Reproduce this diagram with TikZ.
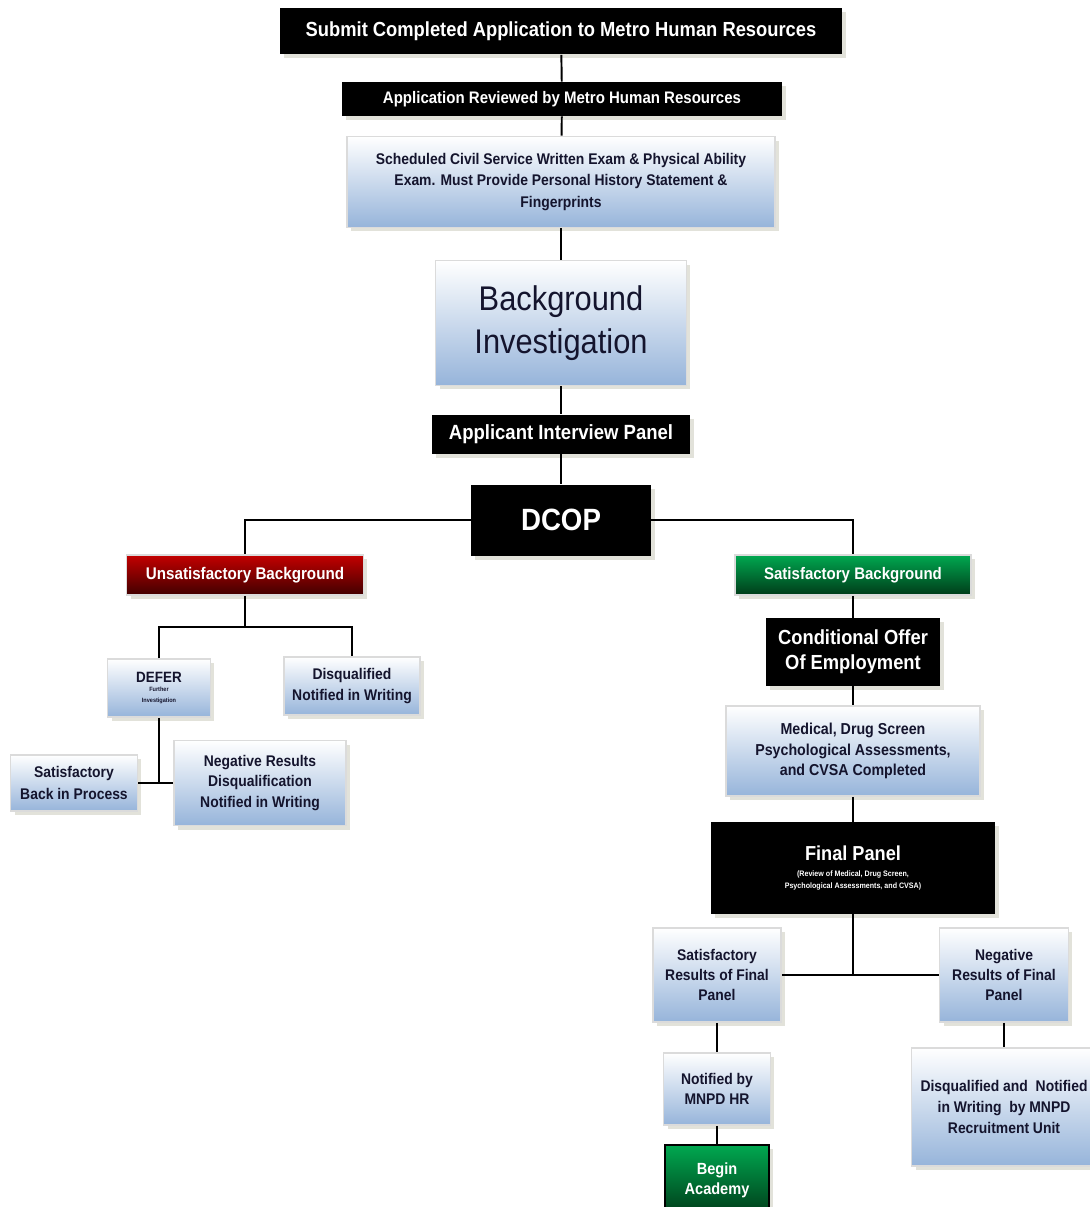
\documentclass[tikz,border=0pt]{standalone}
\usepackage{fontspec}
\setmainfont{Liberation Sans}[FakeStretch=0.9]
\usetikzlibrary{shadows}

\definecolor{boxblue}{RGB}{150,180,218}
\definecolor{boxtext}{RGB}{20,20,45}
\definecolor{redtop}{RGB}{195,0,0}
\definecolor{redbot}{RGB}{65,0,0}
\definecolor{greentop}{RGB}{0,168,80}
\definecolor{greenbot}{RGB}{0,60,25}
\definecolor{shadowgray}{RGB}{226,226,218}

\newcommand{\sz}[2]{\fontsize{#1}{#2}\selectfont}

\tikzset{
  flowbox/.style={align=center, inner sep=1pt,
    drop shadow={shadow xshift=0.08cm, shadow yshift=-0.08cm, fill=shadowgray, opacity=1}},
  bluebox/.style={flowbox, draw=black!14, line width=0.9pt, top color=white,
    bottom color=boxblue, text=boxtext, font=\bfseries\sz#1},
  blackbox/.style={flowbox, fill=black, text=white, font=\bfseries\sz#1},
  redbox/.style={flowbox, draw=black!14, line width=0.9pt, top color=redtop,
    bottom color=redbot, text=white, font=\bfseries\sz#1},
  greenbox/.style={flowbox, draw=black!14, line width=0.9pt, top color=greentop,
    bottom color=greenbot, text=white, font=\bfseries\sz#1},
  link/.style={line width=1.1pt}
}

\begin{document}
\begin{tikzpicture}[x=0.02cm, y=-0.02cm]
\useasboundingbox (0,0) rectangle (1089,1207);

% Tronco principale
\node[blackbox={{11.6}{14}}, minimum width=11.24cm, minimum height=0.94cm] (submit) at (561,31)
  {Submit Completed Application to Metro Human Resources};
\node[blackbox={{9.5}{11}}, minimum width=8.8cm, minimum height=0.68cm] (reviewed) at (562,99)
  {Application Reviewed by Metro Human Resources};
\node[bluebox={{8.8}{12}}, minimum width=8.56cm, minimum height=1.82cm] (exam) at (561,182)
  {Scheduled Civil Service Written Exam \& Physical Ability\\
   Exam. Must Provide Personal History Statement \&\\ Fingerprints};
\node[bluebox={{19.5}{24.5}}, font=\mdseries\sz{19.5}{24.5}, minimum width=5.02cm, minimum height=2.5cm] (bgi) at (561,323)
  {Background\\ Investigation};
\node[blackbox={{11.7}{13}}, minimum width=5.16cm, minimum height=0.78cm] (interview) at (561,434)
  {Applicant Interview Panel};
\node[blackbox={{17.5}{20}}, minimum width=3.6cm, minimum height=1.42cm] (dcop) at (561,520)
  {DCOP};

\draw[link] (submit) -- (reviewed);
\draw[link] (reviewed) -- (exam);
\draw[link] (exam) -- (bgi);
\draw[link] (bgi) -- (interview);
\draw[link] (interview) -- (dcop);

% Ramo insoddisfacente
\node[redbox={{9.6}{11}}, minimum width=4.74cm, minimum height=0.8cm] (unsat) at (245,575)
  {Unsatisfactory Background};
\node[bluebox={{8.5}{8}}, minimum width=2.06cm, minimum height=1.16cm] (defer) at (159,688)
  {DEFER\\[-3pt] \sz{3.5}{4.5}Further\\[-2pt] \sz{3.5}{4.5}Investigation};
\node[bluebox={{8.8}{11.5}}, minimum width=2.72cm, minimum height=1.16cm] (disq) at (352,686)
  {Disqualified\\ Notified in Writing};
\node[bluebox={{8.8}{12}}, minimum width=2.54cm, minimum height=1.12cm] (backproc) at (74,783)
  {Satisfactory\\ Back in Process};
\node[bluebox={{8.8}{11.5}}, minimum width=3.44cm, minimum height=1.7cm] (negres) at (260,783)
  {Negative Results\\ Disqualification\\ Notified in Writing};

\coordinate (ujoin) at (245,627);
\draw[link] (dcop.west) -| (unsat.north);
\draw[link] (unsat) -- (ujoin);
\draw[link] (defer.north) |- (ujoin) -| (disq.north);
\draw[link] (backproc.east) -- (negres.west);
\draw[link] (defer.south) -- (defer.south |- backproc.east);

% Ramo soddisfacente
\node[greenbox={{9.5}{11}}, minimum width=4.72cm, minimum height=0.8cm] (sat) at (853,575)
  {Satisfactory Background};
\node[blackbox={{11.6}{14}}, minimum width=3.48cm, minimum height=1.36cm] (offer) at (853,652)
  {Conditional Offer\\ Of Employment};
\node[bluebox={{9}{11.5}}, minimum width=5.08cm, minimum height=1.8cm] (medical) at (853,751)
  {Medical, Drug Screen\\ Psychological Assessments,\\ and CVSA Completed};
\node[blackbox={{11.5}{10}}, minimum width=5.68cm, minimum height=1.84cm] (final) at (853,868)
  {Final Panel\\[-1pt] \sz{4.5}{8}(Review of Medical, Drug Screen,\\[-3pt]
   \sz{4.5}{5.5}Psychological Assessments, and CVSA)};
\node[bluebox={{8.8}{11.5}}, minimum width=2.56cm, minimum height=1.88cm] (satfinal) at (717,975)
  {Satisfactory\\ Results of Final\\ Panel};
\node[bluebox={{8.8}{11.5}}, minimum width=2.58cm, minimum height=1.88cm] (negfinal) at (1004,975)
  {Negative\\ Results of Final\\ Panel};
\node[bluebox={{8.8}{11.5}}, minimum width=2.14cm, minimum height=1.44cm] (notified) at (717,1089)
  {Notified by\\ MNPD HR};
\node[greenbox={{9.2}{11.5}}, draw=black, minimum width=2.08cm, minimum height=1.4cm] (academy) at (717,1180)
  {Begin\\ Academy};
\node[bluebox={{8.8}{12}}, minimum width=3.7cm, minimum height=2.36cm] (disqfinal) at (1004,1107)
  {Disqualified and\ \ Notified\\ in Writing\ \ by MNPD\\ Recruitment Unit};

\draw[link] (dcop.east) -| (sat.north);
\draw[link] (sat) -- (offer);
\draw[link] (offer) -- (medical);
\draw[link] (medical) -- (final);
\draw[link] (satfinal.east) -- (negfinal.west);
\draw[link] (final.south) -- (final.south |- satfinal.east);
\draw[link] (satfinal) -- (notified);
\draw[link] (notified) -- (academy);
\draw[link] (negfinal.south) -- (negfinal.south |- disqfinal.north);

\end{tikzpicture}
\end{document}
